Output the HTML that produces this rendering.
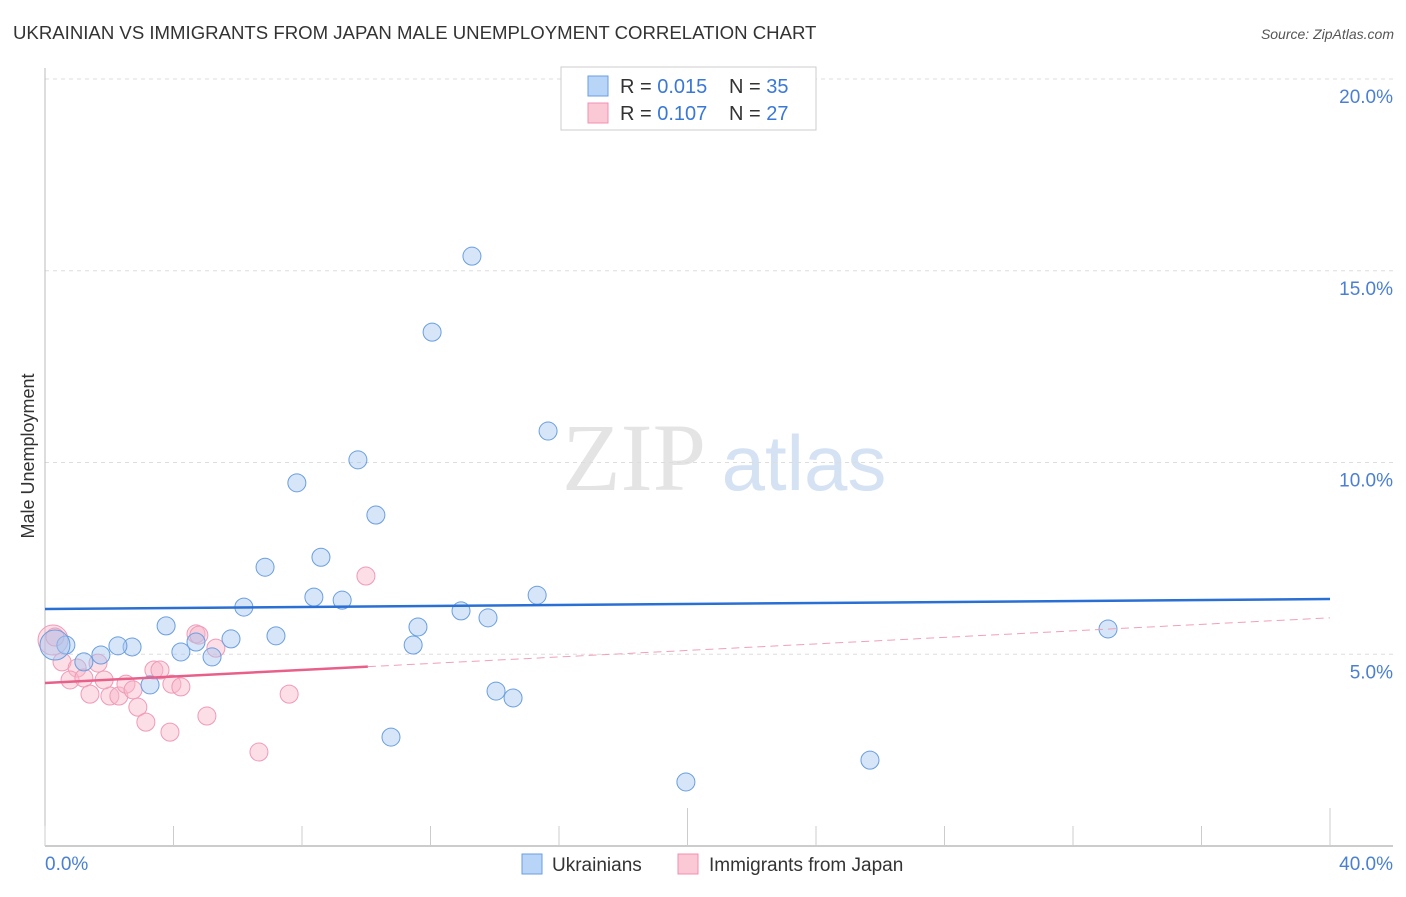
<!DOCTYPE html>
<html><head><meta charset="utf-8"><style>
body{margin:0;background:#fff;font-family:"Liberation Sans",sans-serif;}
</style></head><body>
<svg width="1406" height="892" xmlns="http://www.w3.org/2000/svg">
<text x="13" y="39" font-size="18.6" fill="#333">UKRAINIAN VS IMMIGRANTS FROM JAPAN MALE UNEMPLOYMENT CORRELATION CHART</text>
<text x="1394" y="39" font-size="14" fill="#555" font-style="italic" text-anchor="end">Source: ZipAtlas.com</text>
<text x="634" y="490" font-size="96" fill="#e4e4e4" font-family="Liberation Serif,serif" text-anchor="middle">ZIP</text>
<text x="804" y="490" font-size="78" fill="#d4e2f4" text-anchor="middle">atlas</text>
<text x="34" y="456" font-size="18" fill="#333" text-anchor="middle" transform="rotate(-90 34 456)">Male Unemployment</text>
<g id="grid"></g><g id="axes"></g><g id="marks"></g>
<g>
<rect x="561" y="67" width="255" height="63" fill="#fff" stroke="#ccc"/>
<rect x="588" y="76" width="20" height="20" fill="#b8d4f6" stroke="#6a9ee0"/>
<rect x="588" y="103" width="20" height="20" fill="#fbc8d6" stroke="#f08fb0"/>
<text x="620" y="93" font-size="20" fill="#333">R = <tspan fill="#3a78d8">0.015</tspan></text>
<text x="729" y="93" font-size="20" fill="#333">N = <tspan fill="#3a78d8">35</tspan></text>
<text x="620" y="120" font-size="20" fill="#333">R = <tspan fill="#3a78d8">0.107</tspan></text>
<text x="729" y="120" font-size="20" fill="#333">N = <tspan fill="#3a78d8">27</tspan></text>
</g>
<g>
<rect x="522" y="854" width="20" height="20" fill="#b8d4f6" stroke="#6a9ee0"/>
<text x="552" y="871" font-size="19" fill="#333">Ukrainians</text>
<rect x="678" y="854" width="20" height="20" fill="#fbc8d6" stroke="#f08fb0"/>
<text x="709" y="871" font-size="19" fill="#333">Immigrants from Japan</text>
</g>
</svg>
<script>
const blueX=[13.29,12.05,15.66,9.74,7.84,10.30,8.59,6.85,6.19,8.37,9.25,15.32,12.95,13.79,3.77,11.61,7.19,5.79,4.70,11.46,2.71,2.27,0.65,4.23,5.20,1.74,1.21,3.27,14.04,14.57,10.77,19.95,25.68,33.09,0.31];
const blueY=[15.38,13.40,10.82,10.07,9.47,8.63,7.53,7.27,6.23,6.49,6.41,6.54,6.13,5.95,5.74,5.71,5.48,5.40,5.32,5.24,5.19,5.22,5.24,5.06,4.93,4.98,4.80,4.20,4.04,3.86,2.84,1.67,2.24,5.66,5.24];
const pinkX=[0.25,0.31,0.53,1.00,0.78,1.21,1.65,1.40,2.02,2.30,2.52,1.84,2.74,2.89,3.14,3.39,3.58,3.95,4.23,3.89,4.70,4.79,5.32,5.04,6.66,7.60,9.99];
const pinkY=[5.37,5.45,4.80,4.64,4.33,4.38,4.77,3.96,3.91,3.91,4.22,4.33,4.07,3.62,3.23,4.59,4.59,4.22,4.15,2.97,5.53,5.50,5.16,3.39,2.45,3.96,7.04];
const yTicks=[5,10,15,20];
const yTickLabels=["5.0%","10.0%","15.0%","20.0%"];
const xTicks=[0,4,8,12,16,20,24,28,32,36,40];
const blueTrend=[6.18,6.44];
const pinkTrend=[4.25,5.95];
const pinkSolidEnd=10.05;
const NS="http://www.w3.org/2000/svg";
const X=v=>45+v*32.125, Y=v=>846-v*38.35;
function mk(p,t,a){const e=document.createElementNS(NS,t);for(const k in a)e.setAttribute(k,a[k]);document.getElementById(p).appendChild(e);return e;}
yTicks.forEach((t,i)=>{
 const l=mk('grid','line',{x1:45,x2:1393,y1:Y(t),y2:Y(t),stroke:'#ddd','stroke-dasharray':'4,4'});
 
 
 const tx=mk('grid','text',{x:1393,y:Y(t)+24,'font-size':19,fill:'#4a7fd4','text-anchor':'end'});
 tx.textContent=yTickLabels[i];
 
 
});
mk('axes','line',{x1:45,x2:45,y1:68,y2:846,stroke:'#bbb'});
mk('axes','line',{x1:45,x2:1393,y1:846,y2:846,stroke:'#bbb','stroke-width':1.5});
xTicks.forEach(t=>{
 const big=(t===20||t===40);
 const l=mk('axes','line',{x1:X(t),x2:X(t),y1:big?808:826,y2:846,stroke:'#ccc'});
 
 
});
[[0,"0.0%","start",45],[40,"40.0%","end",1393]].forEach(d=>{
 const tx=mk('axes','text',{x:d[3],y:870,'font-size':19,fill:'#4a7fd4','text-anchor':d[2]});
 tx.textContent=d[1];
 
 
});
pinkX.forEach((x,i)=>{
 const c=mk('marks','circle',{cx:X(x),cy:Y(pinkY[i]),r:i===0?15:9,fill:'rgba(248,182,202,0.45)',stroke:'#f09ab6','stroke-width':1});
 
 
});
blueX.forEach((x,i)=>{
 const c=mk('marks','circle',{cx:X(x),cy:Y(blueY[i]),r:i===blueX.length-1?15:9,fill:'rgba(165,198,240,0.45)',stroke:'#6a9ee0','stroke-width':1});
 
 
});
const bt=mk('marks','line',{x1:X(0),x2:X(40),y1:Y(blueTrend[0]),y2:Y(blueTrend[1]),stroke:'#2a6fd4','stroke-width':2.5});


const pm=pinkTrend[0]+(pinkTrend[1]-pinkTrend[0])*pinkSolidEnd/40;
const pd=mk('marks','line',{x1:X(pinkSolidEnd),x2:X(40),y1:Y(pm),y2:Y(pinkTrend[1]),stroke:'#f0a0b8','stroke-width':1,'stroke-dasharray':'8,5'});


const ps=mk('marks','line',{x1:X(0),x2:X(pinkSolidEnd),y1:Y(pinkTrend[0]),y2:Y(pm),stroke:'#e8608a','stroke-width':2.5});


</script>
</body></html>
